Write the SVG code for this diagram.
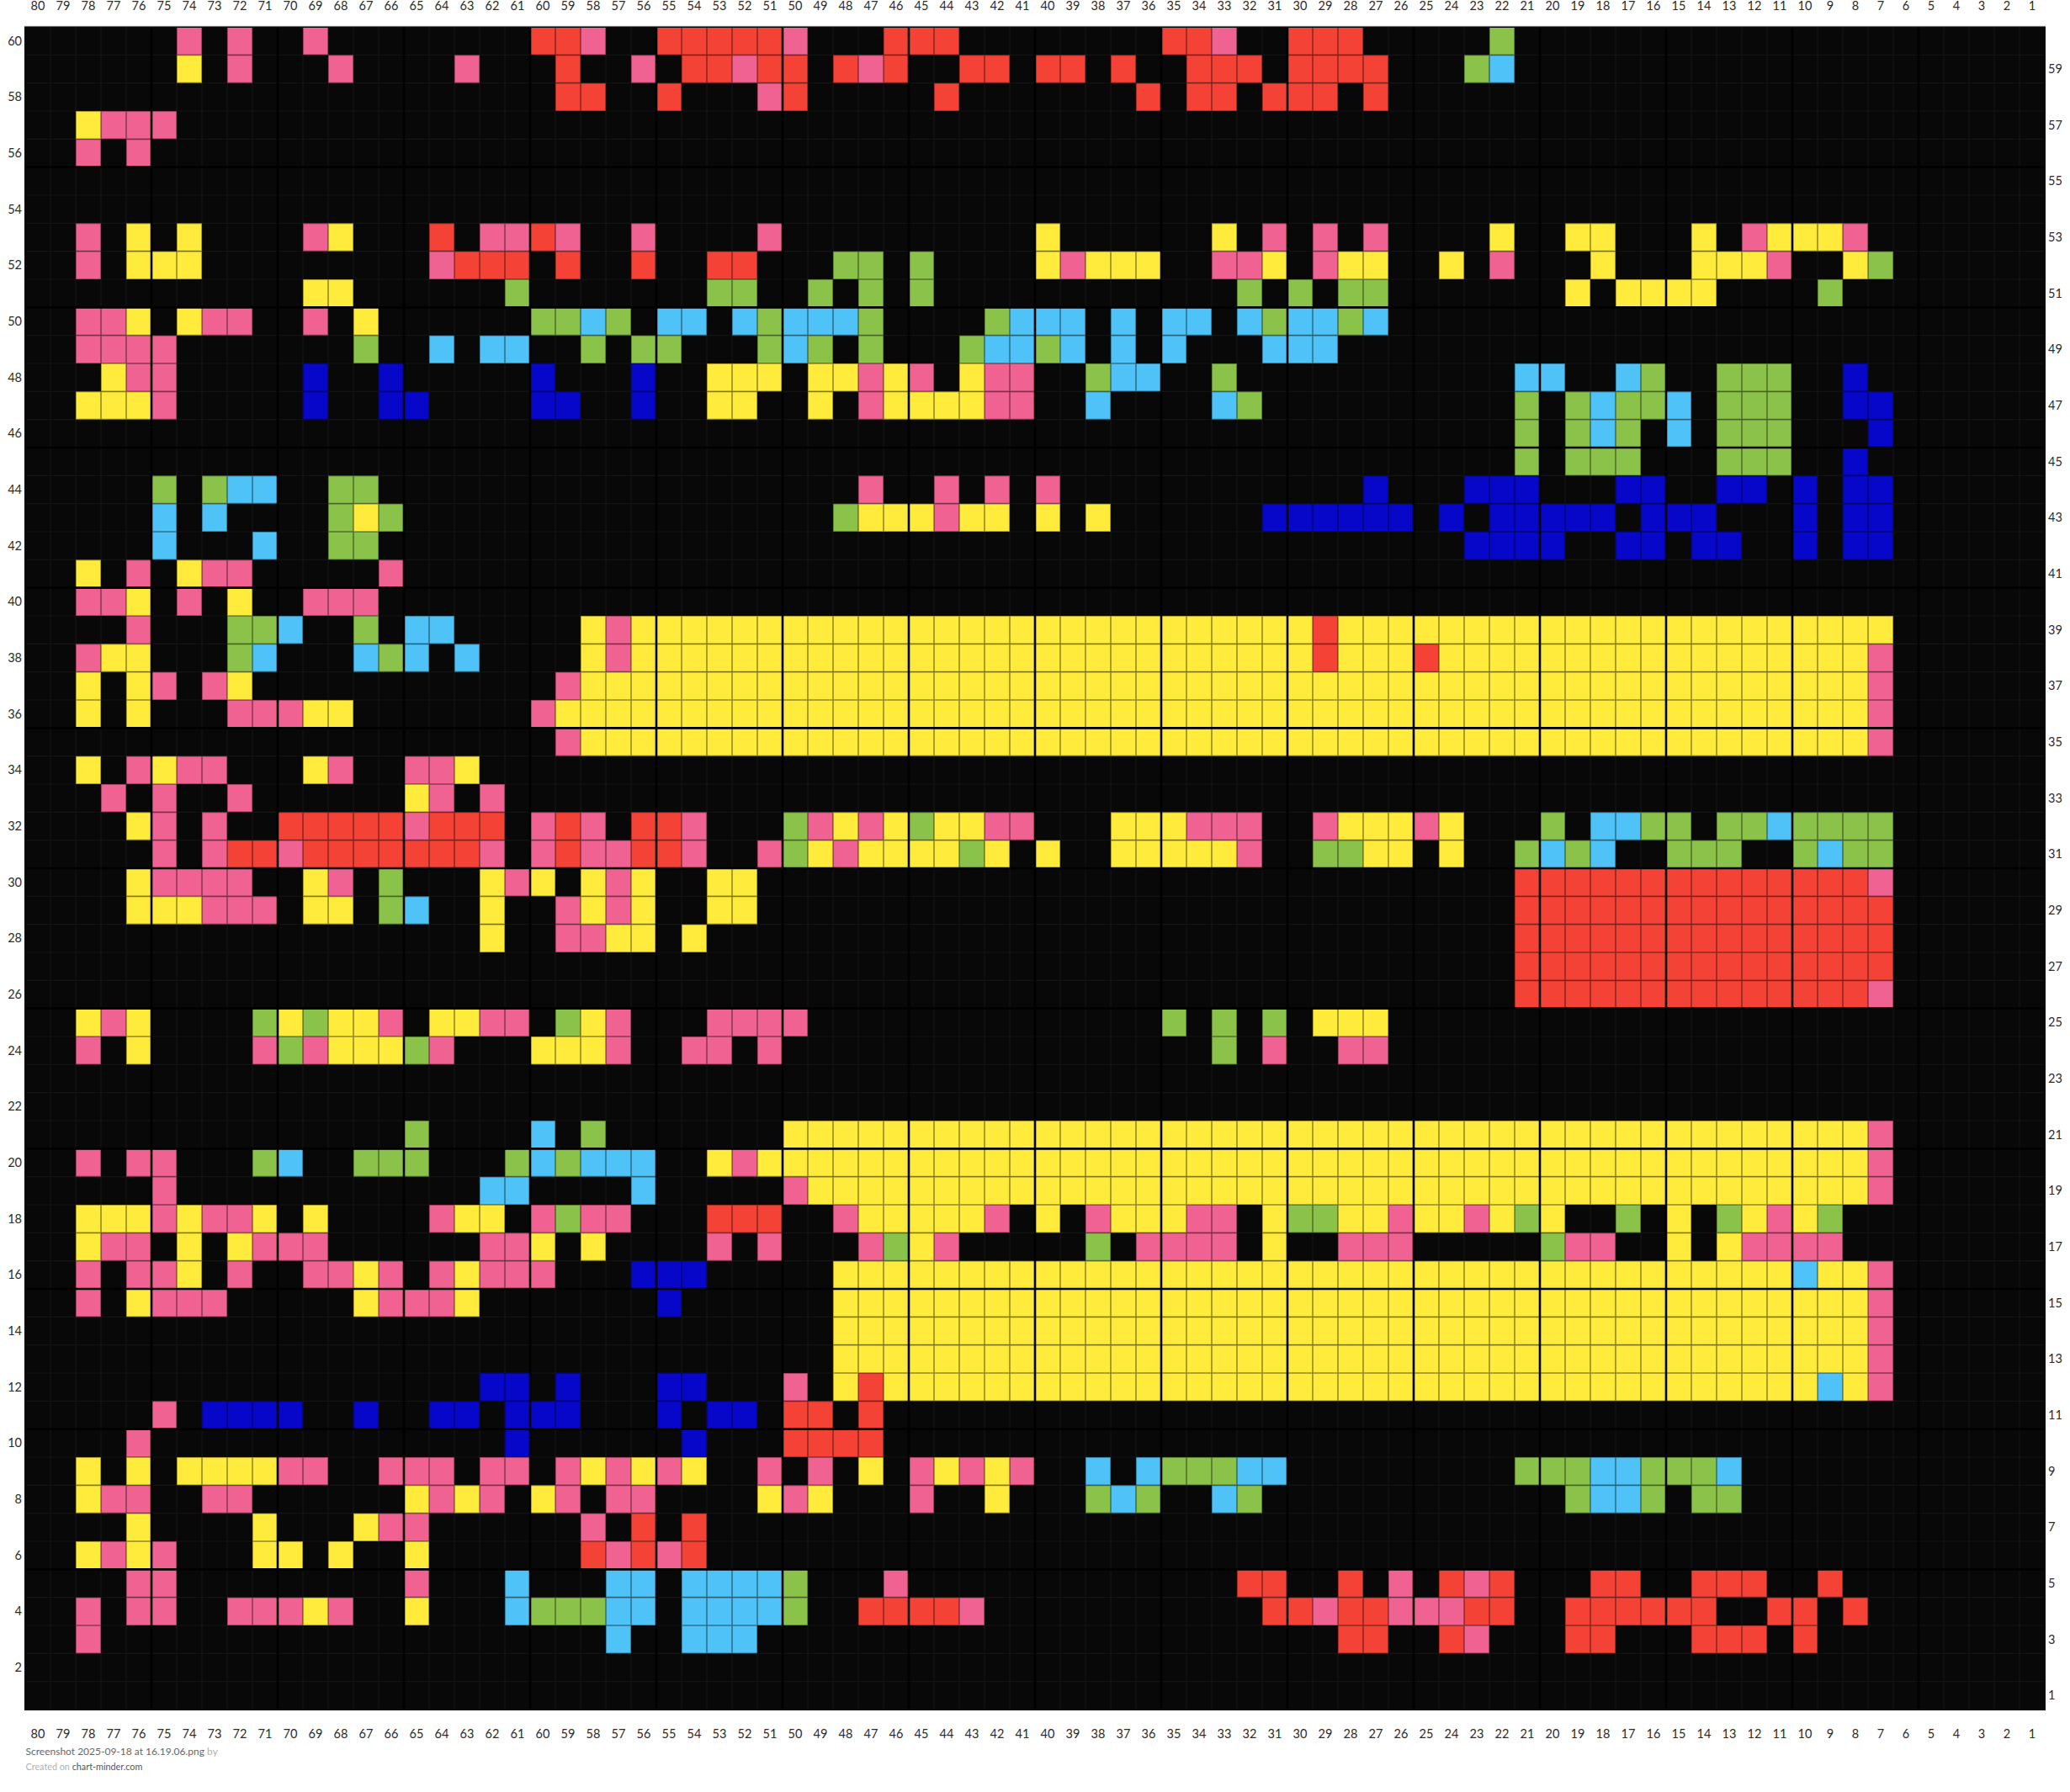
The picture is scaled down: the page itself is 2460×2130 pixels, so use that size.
<svg xmlns="http://www.w3.org/2000/svg" xmlns:xlink="http://www.w3.org/1999/xlink" width="2460" height="2130" viewBox="0 0 2460 2130">
<style>
.r{fill:#F44336}.p{fill:#F06292}.y{fill:#FFEB3B}.g{fill:#8BC34A}.l{fill:#4FC3F7}.b{fill:#0707C9}
.lab{font-family:Lato,"Liberation Sans",sans-serif;font-size:14.5px;fill:#2b2b2b}
.gl{fill:none;vector-effect:non-scaling-stroke}
.foot{font-family:Lato,"Liberation Sans",sans-serif}
</style>
<defs>
<path id="gridlines" d="M1 0V60M2 0V60M3 0V60M4 0V60M5 0V60M6 0V60M7 0V60M8 0V60M9 0V60M10 0V60M11 0V60M12 0V60M13 0V60M14 0V60M15 0V60M16 0V60M17 0V60M18 0V60M19 0V60M20 0V60M21 0V60M22 0V60M23 0V60M24 0V60M25 0V60M26 0V60M27 0V60M28 0V60M29 0V60M30 0V60M31 0V60M32 0V60M33 0V60M34 0V60M35 0V60M36 0V60M37 0V60M38 0V60M39 0V60M40 0V60M41 0V60M42 0V60M43 0V60M44 0V60M45 0V60M46 0V60M47 0V60M48 0V60M49 0V60M50 0V60M51 0V60M52 0V60M53 0V60M54 0V60M55 0V60M56 0V60M57 0V60M58 0V60M59 0V60M60 0V60M61 0V60M62 0V60M63 0V60M64 0V60M65 0V60M66 0V60M67 0V60M68 0V60M69 0V60M70 0V60M71 0V60M72 0V60M73 0V60M74 0V60M75 0V60M76 0V60M77 0V60M78 0V60M79 0V60M0 1H80M0 2H80M0 3H80M0 4H80M0 5H80M0 6H80M0 7H80M0 8H80M0 9H80M0 10H80M0 11H80M0 12H80M0 13H80M0 14H80M0 15H80M0 16H80M0 17H80M0 18H80M0 19H80M0 20H80M0 21H80M0 22H80M0 23H80M0 24H80M0 25H80M0 26H80M0 27H80M0 28H80M0 29H80M0 30H80M0 31H80M0 32H80M0 33H80M0 34H80M0 35H80M0 36H80M0 37H80M0 38H80M0 39H80M0 40H80M0 41H80M0 42H80M0 43H80M0 44H80M0 45H80M0 46H80M0 47H80M0 48H80M0 49H80M0 50H80M0 51H80M0 52H80M0 53H80M0 54H80M0 55H80M0 56H80M0 57H80M0 58H80M0 59H80"/>
</defs>
<rect x="0" y="0" width="2460" height="2130" fill="#ffffff"/>
<g id="chart" transform="translate(30 32) scale(30 33.33333)">
<rect x="0" y="0" width="80" height="60" fill="#080808"/>
<path class="gl" d="M1 0V60M2 0V60M3 0V60M4 0V60M5 0V60M6 0V60M7 0V60M8 0V60M9 0V60M10 0V60M11 0V60M12 0V60M13 0V60M14 0V60M15 0V60M16 0V60M17 0V60M18 0V60M19 0V60M20 0V60M21 0V60M22 0V60M23 0V60M24 0V60M25 0V60M26 0V60M27 0V60M28 0V60M29 0V60M30 0V60M31 0V60M32 0V60M33 0V60M34 0V60M35 0V60M36 0V60M37 0V60M38 0V60M39 0V60M40 0V60M41 0V60M42 0V60M43 0V60M44 0V60M45 0V60M46 0V60M47 0V60M48 0V60M49 0V60M50 0V60M51 0V60M52 0V60M53 0V60M54 0V60M55 0V60M56 0V60M57 0V60M58 0V60M59 0V60M60 0V60M61 0V60M62 0V60M63 0V60M64 0V60M65 0V60M66 0V60M67 0V60M68 0V60M69 0V60M70 0V60M71 0V60M72 0V60M73 0V60M74 0V60M75 0V60M76 0V60M77 0V60M78 0V60M79 0V60M0 1H80M0 2H80M0 3H80M0 4H80M0 5H80M0 6H80M0 7H80M0 8H80M0 9H80M0 10H80M0 11H80M0 12H80M0 13H80M0 14H80M0 15H80M0 16H80M0 17H80M0 18H80M0 19H80M0 20H80M0 21H80M0 22H80M0 23H80M0 24H80M0 25H80M0 26H80M0 27H80M0 28H80M0 29H80M0 30H80M0 31H80M0 32H80M0 33H80M0 34H80M0 35H80M0 36H80M0 37H80M0 38H80M0 39H80M0 40H80M0 41H80M0 42H80M0 43H80M0 44H80M0 45H80M0 46H80M0 47H80M0 48H80M0 49H80M0 50H80M0 51H80M0 52H80M0 53H80M0 54H80M0 55H80M0 56H80M0 57H80M0 58H80M0 59H80" stroke="#232323" stroke-width="1.2"/>
<g id="row-60"><path class="p" d="M6 0h1v1h-1zM8 0h1v1h-1zM11 0h1v1h-1zM22 0h1v1h-1zM30 0h1v1h-1zM47 0h1v1h-1z"/><path class="r" d="M20 0h2v1h-2zM25 0h5v1h-5zM34 0h3v1h-3zM45 0h2v1h-2zM50 0h3v1h-3z"/><path class="g" d="M58 0h1v1h-1z"/></g>
<g id="row-59"><path class="y" d="M6 1h1v1h-1z"/><path class="p" d="M8 1h1v1h-1zM12 1h1v1h-1zM17 1h1v1h-1zM24 1h1v1h-1zM28 1h1v1h-1zM33 1h1v1h-1z"/><path class="r" d="M21 1h1v1h-1zM26 1h2v1h-2zM29 1h2v1h-2zM32 1h1v1h-1zM34 1h1v1h-1zM37 1h2v1h-2zM40 1h2v1h-2zM43 1h1v1h-1zM46 1h3v1h-3zM50 1h4v1h-4z"/><path class="g" d="M57 1h1v1h-1z"/><path class="l" d="M58 1h1v1h-1z"/></g>
<g id="row-58"><path class="r" d="M21 2h2v1h-2zM25 2h1v1h-1zM30 2h1v1h-1zM36 2h1v1h-1zM44 2h1v1h-1zM46 2h2v1h-2zM49 2h3v1h-3zM53 2h1v1h-1z"/><path class="p" d="M29 2h1v1h-1z"/></g>
<g id="row-57"><path class="y" d="M2 3h1v1h-1z"/><path class="p" d="M3 3h3v1h-3z"/></g>
<g id="row-56"><path class="p" d="M2 4h1v1h-1zM4 4h1v1h-1z"/></g>
<g id="row-53"><path class="p" d="M2 7h1v1h-1zM11 7h1v1h-1zM18 7h2v1h-2zM21 7h1v1h-1zM24 7h1v1h-1zM29 7h1v1h-1zM49 7h1v1h-1zM51 7h1v1h-1zM53 7h1v1h-1zM68 7h1v1h-1zM72 7h1v1h-1z"/><path class="y" d="M4 7h1v1h-1zM6 7h1v1h-1zM12 7h1v1h-1zM40 7h1v1h-1zM47 7h1v1h-1zM58 7h1v1h-1zM61 7h2v1h-2zM66 7h1v1h-1zM69 7h3v1h-3z"/><path class="r" d="M16 7h1v1h-1zM20 7h1v1h-1z"/></g>
<g id="row-52"><path class="p" d="M2 8h1v1h-1zM16 8h1v1h-1zM41 8h1v1h-1zM47 8h2v1h-2zM51 8h1v1h-1zM58 8h1v1h-1zM69 8h1v1h-1z"/><path class="y" d="M4 8h3v1h-3zM40 8h1v1h-1zM42 8h3v1h-3zM49 8h1v1h-1zM52 8h2v1h-2zM56 8h1v1h-1zM62 8h1v1h-1zM66 8h3v1h-3zM72 8h1v1h-1z"/><path class="r" d="M17 8h3v1h-3zM21 8h1v1h-1zM24 8h1v1h-1zM27 8h2v1h-2z"/><path class="g" d="M32 8h2v1h-2zM35 8h1v1h-1zM73 8h1v1h-1z"/></g>
<g id="row-51"><path class="y" d="M11 9h2v1h-2zM61 9h1v1h-1zM63 9h4v1h-4z"/><path class="g" d="M19 9h1v1h-1zM27 9h2v1h-2zM31 9h1v1h-1zM33 9h1v1h-1zM35 9h1v1h-1zM48 9h1v1h-1zM50 9h1v1h-1zM52 9h2v1h-2zM71 9h1v1h-1z"/></g>
<g id="row-50"><path class="p" d="M2 10h2v1h-2zM7 10h2v1h-2zM11 10h1v1h-1z"/><path class="y" d="M4 10h1v1h-1zM6 10h1v1h-1zM13 10h1v1h-1z"/><path class="g" d="M20 10h2v1h-2zM23 10h1v1h-1zM29 10h1v1h-1zM33 10h1v1h-1zM38 10h1v1h-1zM49 10h1v1h-1zM52 10h1v1h-1z"/><path class="l" d="M22 10h1v1h-1zM25 10h2v1h-2zM28 10h1v1h-1zM30 10h3v1h-3zM39 10h3v1h-3zM43 10h1v1h-1zM45 10h2v1h-2zM48 10h1v1h-1zM50 10h2v1h-2zM53 10h1v1h-1z"/></g>
<g id="row-49"><path class="p" d="M2 11h4v1h-4z"/><path class="g" d="M13 11h1v1h-1zM22 11h1v1h-1zM24 11h2v1h-2zM29 11h1v1h-1zM31 11h1v1h-1zM33 11h1v1h-1zM37 11h1v1h-1zM40 11h1v1h-1z"/><path class="l" d="M16 11h1v1h-1zM18 11h2v1h-2zM30 11h1v1h-1zM38 11h2v1h-2zM41 11h1v1h-1zM43 11h1v1h-1zM45 11h1v1h-1zM49 11h3v1h-3z"/></g>
<g id="row-48"><path class="y" d="M3 12h1v1h-1zM27 12h3v1h-3zM31 12h2v1h-2zM34 12h1v1h-1zM37 12h1v1h-1z"/><path class="p" d="M4 12h2v1h-2zM33 12h1v1h-1zM35 12h1v1h-1zM38 12h2v1h-2z"/><path class="b" d="M11 12h1v1h-1zM14 12h1v1h-1zM20 12h1v1h-1zM24 12h1v1h-1zM72 12h1v1h-1z"/><path class="g" d="M42 12h1v1h-1zM47 12h1v1h-1zM64 12h1v1h-1zM67 12h3v1h-3z"/><path class="l" d="M43 12h2v1h-2zM59 12h2v1h-2zM63 12h1v1h-1z"/></g>
<g id="row-47"><path class="y" d="M2 13h3v1h-3zM27 13h2v1h-2zM31 13h1v1h-1zM34 13h4v1h-4z"/><path class="p" d="M5 13h1v1h-1zM33 13h1v1h-1zM38 13h2v1h-2z"/><path class="b" d="M11 13h1v1h-1zM14 13h2v1h-2zM20 13h2v1h-2zM24 13h1v1h-1zM72 13h2v1h-2z"/><path class="l" d="M42 13h1v1h-1zM47 13h1v1h-1zM62 13h1v1h-1zM65 13h1v1h-1z"/><path class="g" d="M48 13h1v1h-1zM59 13h1v1h-1zM61 13h1v1h-1zM63 13h2v1h-2zM67 13h3v1h-3z"/></g>
<g id="row-46"><path class="g" d="M59 14h1v1h-1zM61 14h1v1h-1zM63 14h1v1h-1zM67 14h3v1h-3z"/><path class="l" d="M62 14h1v1h-1zM65 14h1v1h-1z"/><path class="b" d="M73 14h1v1h-1z"/></g>
<g id="row-45"><path class="g" d="M59 15h1v1h-1zM61 15h3v1h-3zM67 15h3v1h-3z"/><path class="b" d="M72 15h1v1h-1z"/></g>
<g id="row-44"><path class="g" d="M5 16h1v1h-1zM7 16h1v1h-1zM12 16h2v1h-2z"/><path class="l" d="M8 16h2v1h-2z"/><path class="p" d="M33 16h1v1h-1zM36 16h1v1h-1zM38 16h1v1h-1zM40 16h1v1h-1z"/><path class="b" d="M53 16h1v1h-1zM57 16h3v1h-3zM63 16h2v1h-2zM67 16h2v1h-2zM70 16h1v1h-1zM72 16h2v1h-2z"/></g>
<g id="row-43"><path class="l" d="M5 17h1v1h-1zM7 17h1v1h-1z"/><path class="g" d="M12 17h1v1h-1zM14 17h1v1h-1zM32 17h1v1h-1z"/><path class="y" d="M13 17h1v1h-1zM33 17h3v1h-3zM37 17h2v1h-2zM40 17h1v1h-1zM42 17h1v1h-1z"/><path class="p" d="M36 17h1v1h-1z"/><path class="b" d="M49 17h6v1h-6zM56 17h1v1h-1zM58 17h5v1h-5zM64 17h3v1h-3zM70 17h1v1h-1zM72 17h2v1h-2z"/></g>
<g id="row-42"><path class="l" d="M5 18h1v1h-1zM9 18h1v1h-1z"/><path class="g" d="M12 18h2v1h-2z"/><path class="b" d="M57 18h4v1h-4zM63 18h2v1h-2zM66 18h2v1h-2zM70 18h1v1h-1zM72 18h2v1h-2z"/></g>
<g id="row-41"><path class="y" d="M2 19h1v1h-1zM6 19h1v1h-1z"/><path class="p" d="M4 19h1v1h-1zM7 19h2v1h-2zM14 19h1v1h-1z"/></g>
<g id="row-40"><path class="p" d="M2 20h2v1h-2zM6 20h1v1h-1zM11 20h3v1h-3z"/><path class="y" d="M4 20h1v1h-1zM8 20h1v1h-1z"/></g>
<g id="row-39"><path class="p" d="M4 21h1v1h-1zM23 21h1v1h-1z"/><path class="g" d="M8 21h2v1h-2zM13 21h1v1h-1z"/><path class="l" d="M10 21h1v1h-1zM15 21h2v1h-2z"/><path class="y" d="M22 21h1v1h-1zM24 21h27v1h-27zM52 21h22v1h-22z"/><path class="r" d="M51 21h1v1h-1z"/></g>
<g id="row-38"><path class="p" d="M2 22h1v1h-1zM23 22h1v1h-1zM73 22h1v1h-1z"/><path class="y" d="M3 22h2v1h-2zM22 22h1v1h-1zM24 22h27v1h-27zM52 22h3v1h-3zM56 22h17v1h-17z"/><path class="g" d="M8 22h1v1h-1zM14 22h1v1h-1z"/><path class="l" d="M9 22h1v1h-1zM13 22h1v1h-1zM15 22h1v1h-1zM17 22h1v1h-1z"/><path class="r" d="M51 22h1v1h-1zM55 22h1v1h-1z"/></g>
<g id="row-37"><path class="y" d="M2 23h1v1h-1zM4 23h1v1h-1zM8 23h1v1h-1zM22 23h51v1h-51z"/><path class="p" d="M5 23h1v1h-1zM7 23h1v1h-1zM21 23h1v1h-1zM73 23h1v1h-1z"/></g>
<g id="row-36"><path class="y" d="M2 24h1v1h-1zM4 24h1v1h-1zM11 24h2v1h-2zM21 24h52v1h-52z"/><path class="p" d="M8 24h3v1h-3zM20 24h1v1h-1zM73 24h1v1h-1z"/></g>
<g id="row-35"><path class="p" d="M21 25h1v1h-1zM73 25h1v1h-1z"/><path class="y" d="M22 25h51v1h-51z"/></g>
<g id="row-34"><path class="y" d="M2 26h1v1h-1zM5 26h1v1h-1zM11 26h1v1h-1zM17 26h1v1h-1z"/><path class="p" d="M4 26h1v1h-1zM6 26h2v1h-2zM12 26h1v1h-1zM15 26h2v1h-2z"/></g>
<g id="row-33"><path class="p" d="M3 27h1v1h-1zM5 27h1v1h-1zM8 27h1v1h-1zM16 27h1v1h-1zM18 27h1v1h-1z"/><path class="y" d="M15 27h1v1h-1z"/></g>
<g id="row-32"><path class="y" d="M4 28h1v1h-1zM32 28h1v1h-1zM34 28h1v1h-1zM36 28h2v1h-2zM43 28h3v1h-3zM52 28h3v1h-3zM56 28h1v1h-1z"/><path class="p" d="M5 28h1v1h-1zM7 28h1v1h-1zM15 28h1v1h-1zM20 28h1v1h-1zM22 28h1v1h-1zM26 28h1v1h-1zM31 28h1v1h-1zM33 28h1v1h-1zM38 28h2v1h-2zM46 28h3v1h-3zM51 28h1v1h-1zM55 28h1v1h-1z"/><path class="r" d="M10 28h5v1h-5zM16 28h3v1h-3zM21 28h1v1h-1zM24 28h2v1h-2z"/><path class="g" d="M30 28h1v1h-1zM35 28h1v1h-1zM60 28h1v1h-1zM64 28h2v1h-2zM67 28h2v1h-2zM70 28h4v1h-4z"/><path class="l" d="M62 28h2v1h-2zM69 28h1v1h-1z"/></g>
<g id="row-31"><path class="p" d="M5 29h1v1h-1zM7 29h1v1h-1zM10 29h1v1h-1zM18 29h1v1h-1zM20 29h1v1h-1zM22 29h2v1h-2zM26 29h1v1h-1zM29 29h1v1h-1zM32 29h1v1h-1zM48 29h1v1h-1z"/><path class="r" d="M8 29h2v1h-2zM11 29h7v1h-7zM21 29h1v1h-1zM24 29h2v1h-2z"/><path class="g" d="M30 29h1v1h-1zM37 29h1v1h-1zM51 29h2v1h-2zM59 29h1v1h-1zM61 29h1v1h-1zM65 29h3v1h-3zM70 29h1v1h-1zM72 29h2v1h-2z"/><path class="y" d="M31 29h1v1h-1zM33 29h4v1h-4zM38 29h1v1h-1zM40 29h1v1h-1zM43 29h5v1h-5zM53 29h2v1h-2zM56 29h1v1h-1z"/><path class="l" d="M60 29h1v1h-1zM62 29h1v1h-1zM71 29h1v1h-1z"/></g>
<g id="row-30"><path class="y" d="M4 30h1v1h-1zM11 30h1v1h-1zM18 30h1v1h-1zM20 30h1v1h-1zM22 30h1v1h-1zM24 30h1v1h-1zM27 30h2v1h-2z"/><path class="p" d="M5 30h4v1h-4zM12 30h1v1h-1zM19 30h1v1h-1zM23 30h1v1h-1zM73 30h1v1h-1z"/><path class="g" d="M14 30h1v1h-1z"/><path class="r" d="M59 30h14v1h-14z"/></g>
<g id="row-29"><path class="y" d="M4 31h3v1h-3zM11 31h2v1h-2zM18 31h1v1h-1zM22 31h1v1h-1zM24 31h1v1h-1zM27 31h2v1h-2z"/><path class="p" d="M7 31h3v1h-3zM21 31h1v1h-1zM23 31h1v1h-1z"/><path class="g" d="M14 31h1v1h-1z"/><path class="l" d="M15 31h1v1h-1z"/><path class="r" d="M59 31h15v1h-15z"/></g>
<g id="row-28"><path class="y" d="M18 32h1v1h-1zM23 32h2v1h-2zM26 32h1v1h-1z"/><path class="p" d="M21 32h2v1h-2z"/><path class="r" d="M59 32h15v1h-15z"/></g>
<g id="row-27"><path class="r" d="M59 33h15v1h-15z"/></g>
<g id="row-26"><path class="r" d="M59 34h14v1h-14z"/><path class="p" d="M73 34h1v1h-1z"/></g>
<g id="row-25"><path class="y" d="M2 35h1v1h-1zM4 35h1v1h-1zM10 35h1v1h-1zM12 35h2v1h-2zM16 35h2v1h-2zM22 35h1v1h-1zM51 35h3v1h-3z"/><path class="p" d="M3 35h1v1h-1zM14 35h1v1h-1zM18 35h2v1h-2zM23 35h1v1h-1zM27 35h4v1h-4z"/><path class="g" d="M9 35h1v1h-1zM11 35h1v1h-1zM21 35h1v1h-1zM45 35h1v1h-1zM47 35h1v1h-1zM49 35h1v1h-1z"/></g>
<g id="row-24"><path class="p" d="M2 36h1v1h-1zM9 36h1v1h-1zM11 36h1v1h-1zM16 36h1v1h-1zM23 36h1v1h-1zM26 36h2v1h-2zM29 36h1v1h-1zM49 36h1v1h-1zM52 36h2v1h-2z"/><path class="y" d="M4 36h1v1h-1zM12 36h3v1h-3zM20 36h3v1h-3z"/><path class="g" d="M10 36h1v1h-1zM15 36h1v1h-1zM47 36h1v1h-1z"/></g>
<g id="row-21"><path class="g" d="M15 39h1v1h-1zM22 39h1v1h-1z"/><path class="l" d="M20 39h1v1h-1z"/><path class="y" d="M30 39h43v1h-43z"/><path class="p" d="M73 39h1v1h-1z"/></g>
<g id="row-20"><path class="p" d="M2 40h1v1h-1zM4 40h2v1h-2zM28 40h1v1h-1zM73 40h1v1h-1z"/><path class="g" d="M9 40h1v1h-1zM13 40h3v1h-3zM19 40h1v1h-1zM21 40h1v1h-1z"/><path class="l" d="M10 40h1v1h-1zM20 40h1v1h-1zM22 40h3v1h-3z"/><path class="y" d="M27 40h1v1h-1zM29 40h44v1h-44z"/></g>
<g id="row-19"><path class="p" d="M5 41h1v1h-1zM30 41h1v1h-1zM73 41h1v1h-1z"/><path class="l" d="M18 41h2v1h-2zM24 41h1v1h-1z"/><path class="y" d="M31 41h42v1h-42z"/></g>
<g id="row-18"><path class="y" d="M2 42h3v1h-3zM6 42h1v1h-1zM9 42h1v1h-1zM11 42h1v1h-1zM17 42h2v1h-2zM33 42h5v1h-5zM40 42h1v1h-1zM43 42h3v1h-3zM49 42h1v1h-1zM52 42h2v1h-2zM55 42h2v1h-2zM58 42h1v1h-1zM60 42h1v1h-1zM65 42h1v1h-1zM68 42h1v1h-1zM70 42h1v1h-1z"/><path class="p" d="M5 42h1v1h-1zM7 42h2v1h-2zM16 42h1v1h-1zM20 42h1v1h-1zM22 42h2v1h-2zM32 42h1v1h-1zM38 42h1v1h-1zM42 42h1v1h-1zM46 42h2v1h-2zM54 42h1v1h-1zM57 42h1v1h-1zM69 42h1v1h-1z"/><path class="g" d="M21 42h1v1h-1zM50 42h2v1h-2zM59 42h1v1h-1zM63 42h1v1h-1zM67 42h1v1h-1zM71 42h1v1h-1z"/><path class="r" d="M27 42h3v1h-3z"/></g>
<g id="row-17"><path class="y" d="M2 43h1v1h-1zM6 43h1v1h-1zM8 43h1v1h-1zM20 43h1v1h-1zM22 43h1v1h-1zM35 43h1v1h-1zM49 43h1v1h-1zM65 43h1v1h-1zM67 43h1v1h-1z"/><path class="p" d="M3 43h2v1h-2zM9 43h3v1h-3zM18 43h2v1h-2zM27 43h1v1h-1zM29 43h1v1h-1zM33 43h1v1h-1zM36 43h1v1h-1zM44 43h4v1h-4zM52 43h3v1h-3zM61 43h2v1h-2zM68 43h4v1h-4z"/><path class="g" d="M34 43h1v1h-1zM42 43h1v1h-1zM60 43h1v1h-1z"/></g>
<g id="row-16"><path class="p" d="M2 44h1v1h-1zM4 44h2v1h-2zM8 44h1v1h-1zM11 44h2v1h-2zM14 44h1v1h-1zM16 44h1v1h-1zM18 44h3v1h-3zM73 44h1v1h-1z"/><path class="y" d="M6 44h1v1h-1zM13 44h1v1h-1zM17 44h1v1h-1zM32 44h38v1h-38zM71 44h2v1h-2z"/><path class="b" d="M24 44h3v1h-3z"/><path class="l" d="M70 44h1v1h-1z"/></g>
<g id="row-15"><path class="p" d="M2 45h1v1h-1zM5 45h3v1h-3zM14 45h3v1h-3zM73 45h1v1h-1z"/><path class="y" d="M4 45h1v1h-1zM13 45h1v1h-1zM17 45h1v1h-1zM32 45h41v1h-41z"/><path class="b" d="M25 45h1v1h-1z"/></g>
<g id="row-14"><path class="y" d="M32 46h41v1h-41z"/><path class="p" d="M73 46h1v1h-1z"/></g>
<g id="row-13"><path class="y" d="M32 47h41v1h-41z"/><path class="p" d="M73 47h1v1h-1z"/></g>
<g id="row-12"><path class="b" d="M18 48h2v1h-2zM21 48h1v1h-1zM25 48h2v1h-2z"/><path class="p" d="M30 48h1v1h-1zM73 48h1v1h-1z"/><path class="y" d="M32 48h1v1h-1zM34 48h37v1h-37zM72 48h1v1h-1z"/><path class="r" d="M33 48h1v1h-1z"/><path class="l" d="M71 48h1v1h-1z"/></g>
<g id="row-11"><path class="p" d="M5 49h1v1h-1z"/><path class="b" d="M7 49h4v1h-4zM13 49h1v1h-1zM16 49h2v1h-2zM19 49h3v1h-3zM25 49h1v1h-1zM27 49h2v1h-2z"/><path class="r" d="M30 49h2v1h-2zM33 49h1v1h-1z"/></g>
<g id="row-10"><path class="p" d="M4 50h1v1h-1z"/><path class="b" d="M19 50h1v1h-1zM26 50h1v1h-1z"/><path class="r" d="M30 50h4v1h-4z"/></g>
<g id="row-9"><path class="y" d="M2 51h1v1h-1zM4 51h1v1h-1zM6 51h4v1h-4zM22 51h1v1h-1zM24 51h1v1h-1zM26 51h1v1h-1zM33 51h1v1h-1zM36 51h1v1h-1zM38 51h1v1h-1z"/><path class="p" d="M10 51h2v1h-2zM14 51h3v1h-3zM18 51h2v1h-2zM21 51h1v1h-1zM23 51h1v1h-1zM25 51h1v1h-1zM29 51h1v1h-1zM31 51h1v1h-1zM35 51h1v1h-1zM37 51h1v1h-1zM39 51h1v1h-1z"/><path class="l" d="M42 51h1v1h-1zM44 51h1v1h-1zM48 51h2v1h-2zM62 51h2v1h-2zM67 51h1v1h-1z"/><path class="g" d="M45 51h3v1h-3zM59 51h3v1h-3zM64 51h3v1h-3z"/></g>
<g id="row-8"><path class="y" d="M2 52h1v1h-1zM15 52h1v1h-1zM17 52h1v1h-1zM20 52h1v1h-1zM29 52h1v1h-1zM31 52h1v1h-1zM38 52h1v1h-1z"/><path class="p" d="M3 52h2v1h-2zM7 52h2v1h-2zM16 52h1v1h-1zM18 52h1v1h-1zM21 52h1v1h-1zM23 52h2v1h-2zM30 52h1v1h-1zM35 52h1v1h-1z"/><path class="g" d="M42 52h1v1h-1zM44 52h1v1h-1zM48 52h1v1h-1zM61 52h1v1h-1zM64 52h1v1h-1zM66 52h2v1h-2z"/><path class="l" d="M43 52h1v1h-1zM47 52h1v1h-1zM62 52h2v1h-2z"/></g>
<g id="row-7"><path class="y" d="M4 53h1v1h-1zM9 53h1v1h-1zM13 53h1v1h-1z"/><path class="p" d="M14 53h2v1h-2zM22 53h1v1h-1z"/><path class="r" d="M24 53h1v1h-1zM26 53h1v1h-1z"/></g>
<g id="row-6"><path class="y" d="M2 54h1v1h-1zM4 54h1v1h-1zM9 54h2v1h-2zM12 54h1v1h-1zM15 54h1v1h-1z"/><path class="p" d="M3 54h1v1h-1zM5 54h1v1h-1zM23 54h1v1h-1zM25 54h1v1h-1z"/><path class="r" d="M22 54h1v1h-1zM24 54h1v1h-1zM26 54h1v1h-1z"/></g>
<g id="row-5"><path class="p" d="M4 55h2v1h-2zM15 55h1v1h-1zM34 55h1v1h-1zM54 55h1v1h-1zM57 55h1v1h-1z"/><path class="l" d="M19 55h1v1h-1zM23 55h2v1h-2zM26 55h4v1h-4z"/><path class="g" d="M30 55h1v1h-1z"/><path class="r" d="M48 55h2v1h-2zM52 55h1v1h-1zM56 55h1v1h-1zM58 55h1v1h-1zM62 55h2v1h-2zM66 55h3v1h-3zM71 55h1v1h-1z"/></g>
<g id="row-4"><path class="p" d="M2 56h1v1h-1zM4 56h2v1h-2zM8 56h3v1h-3zM12 56h1v1h-1zM37 56h1v1h-1zM51 56h1v1h-1zM54 56h3v1h-3z"/><path class="y" d="M11 56h1v1h-1zM15 56h1v1h-1z"/><path class="l" d="M19 56h1v1h-1zM23 56h2v1h-2zM26 56h4v1h-4z"/><path class="g" d="M20 56h3v1h-3zM30 56h1v1h-1z"/><path class="r" d="M33 56h4v1h-4zM49 56h2v1h-2zM52 56h2v1h-2zM57 56h2v1h-2zM61 56h6v1h-6zM69 56h2v1h-2zM72 56h1v1h-1z"/></g>
<g id="row-3"><path class="p" d="M2 57h1v1h-1zM57 57h1v1h-1z"/><path class="l" d="M23 57h1v1h-1zM26 57h3v1h-3z"/><path class="r" d="M52 57h2v1h-2zM56 57h1v1h-1zM61 57h2v1h-2zM66 57h3v1h-3zM70 57h1v1h-1z"/></g>
<path class="gl" d="M1 0V60M2 0V60M3 0V60M4 0V60M5 0V60M6 0V60M7 0V60M8 0V60M9 0V60M10 0V60M11 0V60M12 0V60M13 0V60M14 0V60M15 0V60M16 0V60M17 0V60M18 0V60M19 0V60M20 0V60M21 0V60M22 0V60M23 0V60M24 0V60M25 0V60M26 0V60M27 0V60M28 0V60M29 0V60M30 0V60M31 0V60M32 0V60M33 0V60M34 0V60M35 0V60M36 0V60M37 0V60M38 0V60M39 0V60M40 0V60M41 0V60M42 0V60M43 0V60M44 0V60M45 0V60M46 0V60M47 0V60M48 0V60M49 0V60M50 0V60M51 0V60M52 0V60M53 0V60M54 0V60M55 0V60M56 0V60M57 0V60M58 0V60M59 0V60M60 0V60M61 0V60M62 0V60M63 0V60M64 0V60M65 0V60M66 0V60M67 0V60M68 0V60M69 0V60M70 0V60M71 0V60M72 0V60M73 0V60M74 0V60M75 0V60M76 0V60M77 0V60M78 0V60M79 0V60M0 1H80M0 2H80M0 3H80M0 4H80M0 5H80M0 6H80M0 7H80M0 8H80M0 9H80M0 10H80M0 11H80M0 12H80M0 13H80M0 14H80M0 15H80M0 16H80M0 17H80M0 18H80M0 19H80M0 20H80M0 21H80M0 22H80M0 23H80M0 24H80M0 25H80M0 26H80M0 27H80M0 28H80M0 29H80M0 30H80M0 31H80M0 32H80M0 33H80M0 34H80M0 35H80M0 36H80M0 37H80M0 38H80M0 39H80M0 40H80M0 41H80M0 42H80M0 43H80M0 44H80M0 45H80M0 46H80M0 47H80M0 48H80M0 49H80M0 50H80M0 51H80M0 52H80M0 53H80M0 54H80M0 55H80M0 56H80M0 57H80M0 58H80M0 59H80" stroke="#000" stroke-opacity="0.42" stroke-width="1.6"/>
<path class="gl" d="M5 0V60M10 0V60M15 0V60M20 0V60M25 0V60M30 0V60M35 0V60M40 0V60M45 0V60M50 0V60M55 0V60M60 0V60M65 0V60M70 0V60M75 0V60M0 5H80M0 10H80M0 15H80M0 20H80M0 25H80M0 30H80M0 35H80M0 40H80M0 45H80M0 50H80M0 55H80" stroke="#000" stroke-width="2.6"/>
<rect class="gl" x="0" y="0" width="80" height="60" stroke="#0a0a0a" stroke-width="2"/>
</g>
<line x1="29" y1="31.3" x2="2431" y2="31.3" stroke="#9a9a9a" stroke-width="0.8"/>
<g id="col-labels-top" class="lab" text-anchor="middle">
<text x="45" y="12">80</text><text x="75" y="12">79</text><text x="105" y="12">78</text><text x="135" y="12">77</text><text x="165" y="12">76</text><text x="195" y="12">75</text><text x="225" y="12">74</text><text x="255" y="12">73</text><text x="285" y="12">72</text><text x="315" y="12">71</text><text x="345" y="12">70</text><text x="375" y="12">69</text><text x="405" y="12">68</text><text x="435" y="12">67</text><text x="465" y="12">66</text><text x="495" y="12">65</text><text x="525" y="12">64</text><text x="555" y="12">63</text><text x="585" y="12">62</text><text x="615" y="12">61</text><text x="645" y="12">60</text><text x="675" y="12">59</text><text x="705" y="12">58</text><text x="735" y="12">57</text><text x="765" y="12">56</text><text x="795" y="12">55</text><text x="825" y="12">54</text><text x="855" y="12">53</text><text x="885" y="12">52</text><text x="915" y="12">51</text><text x="945" y="12">50</text><text x="975" y="12">49</text><text x="1005" y="12">48</text><text x="1035" y="12">47</text><text x="1065" y="12">46</text><text x="1095" y="12">45</text><text x="1125" y="12">44</text><text x="1155" y="12">43</text><text x="1185" y="12">42</text><text x="1215" y="12">41</text><text x="1245" y="12">40</text><text x="1275" y="12">39</text><text x="1305" y="12">38</text><text x="1335" y="12">37</text><text x="1365" y="12">36</text><text x="1395" y="12">35</text><text x="1425" y="12">34</text><text x="1455" y="12">33</text><text x="1485" y="12">32</text><text x="1515" y="12">31</text><text x="1545" y="12">30</text><text x="1575" y="12">29</text><text x="1605" y="12">28</text><text x="1635" y="12">27</text><text x="1665" y="12">26</text><text x="1695" y="12">25</text><text x="1725" y="12">24</text><text x="1755" y="12">23</text><text x="1785" y="12">22</text><text x="1815" y="12">21</text><text x="1845" y="12">20</text><text x="1875" y="12">19</text><text x="1905" y="12">18</text><text x="1935" y="12">17</text><text x="1965" y="12">16</text><text x="1995" y="12">15</text><text x="2025" y="12">14</text><text x="2055" y="12">13</text><text x="2085" y="12">12</text><text x="2115" y="12">11</text><text x="2145" y="12">10</text><text x="2175" y="12">9</text><text x="2205" y="12">8</text><text x="2235" y="12">7</text><text x="2265" y="12">6</text><text x="2295" y="12">5</text><text x="2325" y="12">4</text><text x="2355" y="12">3</text><text x="2385" y="12">2</text><text x="2415" y="12">1</text>
</g>
<g id="col-labels-bottom" class="lab" text-anchor="middle">
<text x="45" y="2065.5">80</text><text x="75" y="2065.5">79</text><text x="105" y="2065.5">78</text><text x="135" y="2065.5">77</text><text x="165" y="2065.5">76</text><text x="195" y="2065.5">75</text><text x="225" y="2065.5">74</text><text x="255" y="2065.5">73</text><text x="285" y="2065.5">72</text><text x="315" y="2065.5">71</text><text x="345" y="2065.5">70</text><text x="375" y="2065.5">69</text><text x="405" y="2065.5">68</text><text x="435" y="2065.5">67</text><text x="465" y="2065.5">66</text><text x="495" y="2065.5">65</text><text x="525" y="2065.5">64</text><text x="555" y="2065.5">63</text><text x="585" y="2065.5">62</text><text x="615" y="2065.5">61</text><text x="645" y="2065.5">60</text><text x="675" y="2065.5">59</text><text x="705" y="2065.5">58</text><text x="735" y="2065.5">57</text><text x="765" y="2065.5">56</text><text x="795" y="2065.5">55</text><text x="825" y="2065.5">54</text><text x="855" y="2065.5">53</text><text x="885" y="2065.5">52</text><text x="915" y="2065.5">51</text><text x="945" y="2065.5">50</text><text x="975" y="2065.5">49</text><text x="1005" y="2065.5">48</text><text x="1035" y="2065.5">47</text><text x="1065" y="2065.5">46</text><text x="1095" y="2065.5">45</text><text x="1125" y="2065.5">44</text><text x="1155" y="2065.5">43</text><text x="1185" y="2065.5">42</text><text x="1215" y="2065.5">41</text><text x="1245" y="2065.5">40</text><text x="1275" y="2065.5">39</text><text x="1305" y="2065.5">38</text><text x="1335" y="2065.5">37</text><text x="1365" y="2065.5">36</text><text x="1395" y="2065.5">35</text><text x="1425" y="2065.5">34</text><text x="1455" y="2065.5">33</text><text x="1485" y="2065.5">32</text><text x="1515" y="2065.5">31</text><text x="1545" y="2065.5">30</text><text x="1575" y="2065.5">29</text><text x="1605" y="2065.5">28</text><text x="1635" y="2065.5">27</text><text x="1665" y="2065.5">26</text><text x="1695" y="2065.5">25</text><text x="1725" y="2065.5">24</text><text x="1755" y="2065.5">23</text><text x="1785" y="2065.5">22</text><text x="1815" y="2065.5">21</text><text x="1845" y="2065.5">20</text><text x="1875" y="2065.5">19</text><text x="1905" y="2065.5">18</text><text x="1935" y="2065.5">17</text><text x="1965" y="2065.5">16</text><text x="1995" y="2065.5">15</text><text x="2025" y="2065.5">14</text><text x="2055" y="2065.5">13</text><text x="2085" y="2065.5">12</text><text x="2115" y="2065.5">11</text><text x="2145" y="2065.5">10</text><text x="2175" y="2065.5">9</text><text x="2205" y="2065.5">8</text><text x="2235" y="2065.5">7</text><text x="2265" y="2065.5">6</text><text x="2295" y="2065.5">5</text><text x="2325" y="2065.5">4</text><text x="2355" y="2065.5">3</text><text x="2385" y="2065.5">2</text><text x="2415" y="2065.5">1</text>
</g>
<g id="row-labels-left" class="lab" text-anchor="end">
<text x="26" y="53.7">60</text><text x="26" y="120.3">58</text><text x="26" y="187">56</text><text x="26" y="253.7">54</text><text x="26" y="320.3">52</text><text x="26" y="387">50</text><text x="26" y="453.7">48</text><text x="26" y="520.3">46</text><text x="26" y="587">44</text><text x="26" y="653.7">42</text><text x="26" y="720.3">40</text><text x="26" y="787">38</text><text x="26" y="853.7">36</text><text x="26" y="920.3">34</text><text x="26" y="987">32</text><text x="26" y="1053.7">30</text><text x="26" y="1120.3">28</text><text x="26" y="1187">26</text><text x="26" y="1253.7">24</text><text x="26" y="1320.3">22</text><text x="26" y="1387">20</text><text x="26" y="1453.7">18</text><text x="26" y="1520.3">16</text><text x="26" y="1587">14</text><text x="26" y="1653.7">12</text><text x="26" y="1720.3">10</text><text x="26" y="1787">8</text><text x="26" y="1853.7">6</text><text x="26" y="1920.3">4</text><text x="26" y="1987">2</text>
</g>
<g id="row-labels-right" class="lab" text-anchor="start">
<text x="2434" y="87">59</text><text x="2434" y="153.7">57</text><text x="2434" y="220.3">55</text><text x="2434" y="287">53</text><text x="2434" y="353.7">51</text><text x="2434" y="420.3">49</text><text x="2434" y="487">47</text><text x="2434" y="553.7">45</text><text x="2434" y="620.3">43</text><text x="2434" y="687">41</text><text x="2434" y="753.7">39</text><text x="2434" y="820.3">37</text><text x="2434" y="887">35</text><text x="2434" y="953.7">33</text><text x="2434" y="1020.3">31</text><text x="2434" y="1087">29</text><text x="2434" y="1153.7">27</text><text x="2434" y="1220.3">25</text><text x="2434" y="1287">23</text><text x="2434" y="1353.7">21</text><text x="2434" y="1420.3">19</text><text x="2434" y="1487">17</text><text x="2434" y="1553.7">15</text><text x="2434" y="1620.3">13</text><text x="2434" y="1687">11</text><text x="2434" y="1753.7">9</text><text x="2434" y="1820.3">7</text><text x="2434" y="1887">5</text><text x="2434" y="1953.7">3</text><text x="2434" y="2020.3">1</text>
</g>
<g id="footer" class="foot">
<text x="30.5" y="2086" font-size="12" fill="#666666">Screenshot 2025-09-18 at 16.19.06.png <tspan fill="#b0b0b0">by</tspan></text>
<text x="30.5" y="2103.5" font-size="10.8"><tspan fill="#b0b0b0">Created on </tspan><tspan fill="#555555">chart-minder.com</tspan></text>
</g>
</svg>
